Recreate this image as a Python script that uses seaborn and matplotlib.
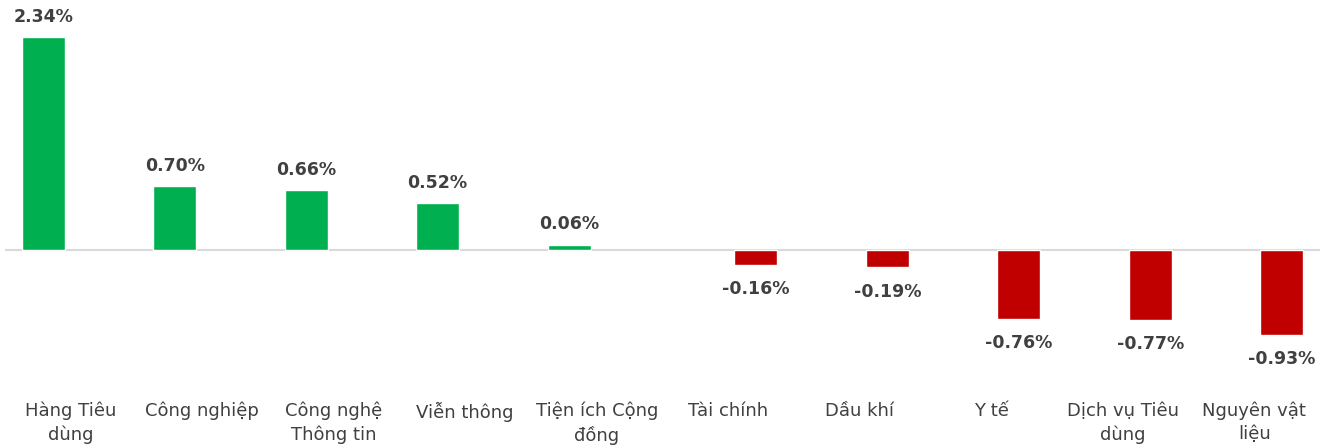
import numpy as np
import pandas as pd
import matplotlib
matplotlib.use("Agg")
import matplotlib.pyplot as plt
import seaborn as sns

categories = ["Hàng Tiêu\ndùng", "Công nghiệp", "Công nghệ\nThông tin", "Viễn thông",
              "Tiện ích Cộng\nđồng", "Tài chính", "Dầu khí", "Y tế",
              "Dịch vụ Tiêu\ndùng", "Nguyên vật\nliệu"]
values = [2.34, 0.70, 0.66, 0.52, 0.06, -0.16, -0.19, -0.76, -0.77, -0.93]

GREEN = "#00B050"
RED = "#C00000"
TEXT = "#404040"

df = pd.DataFrame({"Ngành": categories, "Thay đổi": values})
df["Chiều"] = np.where(df["Thay đổi"] >= 0, "Tăng", "Giảm")

sns.set_style("white")
plt.rcParams["font.family"] = ["DejaVu Sans"]

fig, ax = plt.subplots(figsize=(13.24, 4.46), dpi=100)
fig.subplots_adjust(left=5 / 1324, right=1320 / 1324, top=1.0, bottom=1 - 395 / 446)

sns.barplot(data=df, x="Ngành", y="Thay đổi", hue="Chiều", order=categories,
            hue_order=["Tăng", "Giảm"], palette=[GREEN, RED], width=0.84, gap=0.22,
            dodge=True, legend=False, saturation=1, ax=ax)

# green bars first, red bars second
for c, pad in zip(ax.containers, [8, 11]):
    ax.bar_label(c, fmt="{:.2f}%", padding=pad, fontsize=12.5, fontweight="bold", color=TEXT)

ax.axhline(0, color="#D9D9D9", lw=1.5, zorder=0)
ax.set_ylim(-145 / 91.0, 250 / 91.0)
ax.set_xlim(-0.5, 9.5)
ax.set_xlabel("")
ax.set_ylabel("")
ax.set_yticks([])
ax.tick_params(axis="x", length=0, pad=5, labelsize=13, labelcolor=TEXT)
for lbl in ax.get_xticklabels():
    lbl.set_linespacing(1.35)
sns.despine(ax=ax, left=True, bottom=True)

fig.savefig("out.png", dpi=100)
